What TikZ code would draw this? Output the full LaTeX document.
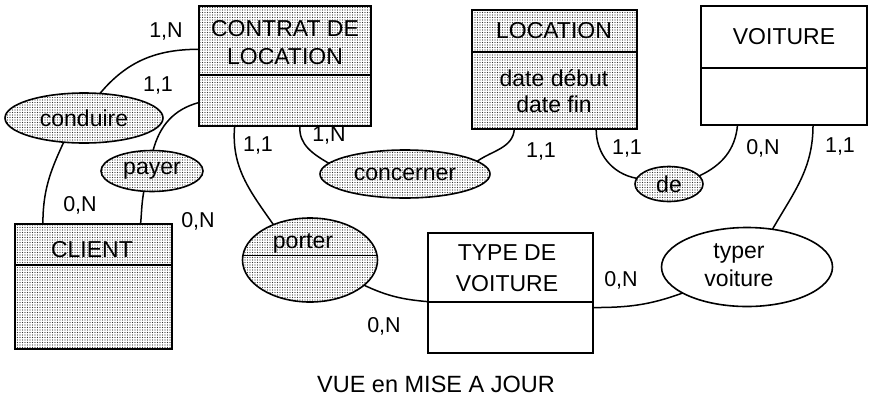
\documentclass[tikz,border=0pt]{standalone}
\usepackage{fontspec}
\setmainfont{Liberation Sans}
\usetikzlibrary{shapes.geometric,patterns.meta}
\tikzset{every picture/.style={line width=1.5pt}}
\tikzset{
  entite/.style={draw, rectangle, line width=1.7pt, inner sep=0pt, outer sep=0pt},
  relation/.style={draw, ellipse, line width=1.6pt, inner sep=0pt, outer sep=0pt},
  ombre/.style={pattern={Dots[distance=2.5pt,radius=0.55pt]}, pattern color=black!80},
  card/.style={inner sep=0pt, font=\fontsize{21.5}{25}\selectfont},
}

\begin{document}
\begin{tikzpicture}[x=1pt, y=-1pt, font=\fontsize{23}{28}\selectfont]
    \useasboundingbox (0,0) rectangle (871,400);
    % entites
    \node[entite, ombre, minimum width=172pt, minimum height=120pt] (contrat) at (285,66) {};
    \node[align=center] (contrat-t) at (285,43) {CONTRAT DE\\LOCATION};
    \draw[line width=1.7pt] (contrat.west |- 0,75) -- (contrat.east |- 0,75);
    \node[entite, ombre, minimum width=165pt, minimum height=119pt] (location) at (554.5,69.5) {};
    \node (location-t) at (554,31) {LOCATION};
    \draw[line width=1.7pt] (location.west |- 0,52) -- (location.east |- 0,52);
    \node[align=center, font=\fontsize{23}{26}\selectfont] (location-a) at (554,91) {date début\\date fin};
    \node[entite, minimum width=166pt, minimum height=119pt] (voiture) at (784,65.5) {};
    \node (voiture-t) at (784,37) {VOITURE};
    \draw[line width=1.7pt] (voiture.west |- 0,68) -- (voiture.east |- 0,68);
    \node[entite, ombre, minimum width=157pt, minimum height=125pt] (client) at (93.5,286.5) {};
    \node (client-t) at (92,250) {CLIENT};
    \draw[line width=1.7pt] (client.west |- 0,265) -- (client.east |- 0,265);
    \node[entite, minimum width=165pt, minimum height=120pt] (type) at (510.5,293) {};
    \node[align=center, font=\fontsize{23}{31}\selectfont] (type-t) at (507,268.5) {TYPE DE\\VOITURE};
    \draw[line width=1.7pt] (type.west |- 0,302) -- (type.east |- 0,302);
    % associations
    \node[relation, ombre, minimum width=158pt, minimum height=50pt] (conduire) at (84,118) {conduire};
    \node[relation, ombre, minimum width=102pt, minimum height=41pt] (payer) at (152,171) {payer};
    \node[relation, ombre, minimum width=170pt, minimum height=48pt] (concerner) at (405,174) {concerner};
    \node[relation, ombre, minimum width=68pt, minimum height=35pt] (de) at (669,184) {de};
    \node[relation, ombre, minimum width=135pt, minimum height=84pt] (porter) at (310,260) {};
    \node (porter-t) at (303,243) {porter};
    \draw[line width=1.6pt] (porter.176) -- (porter.4);
    \node[relation, minimum width=171pt, minimum height=79pt] (typer) at (747,267) {};
    \node[align=center] (typer-t) at (739,265) {typer\\voiture};
    % liens
    \draw (contrat.169) to[out=180, in=50] (conduire.57);
    \draw (contrat.203) to[out=195, in=75] (payer.87);
    \draw (conduire.230) to[out=245, in=90] (client.129);
    \draw (payer.248) to[out=260, in=85] (client.53);
    \draw (contrat.230) to[out=265, in=125] (porter.136);
    \draw (contrat.284) to[out=265, in=150] (concerner.172);
    \draw (concerner.10) to[out=35, in=265] (location.236);
    \draw (location.305) to[out=270, in=170] (de.170);
    \draw (de.15) to[out=25, in=265] (voiture.232);
    \draw (voiture.296) to[out=270, in=60] (typer.56);
    \draw (typer.202) to[out=200, in=0] (type.350);
    \draw (porter.335) to[out=335, in=175] (type.186);
    % cardinalites
    \node[card] (c1) at (166,31) {1,N};
    \node[card] (c2) at (158,85) {1,1};
    \node[card] (c3) at (258,145) {1,1};
    \node[card] (c4) at (329,135) {1,N};
    \node[card] (c5) at (80,205) {0,N};
    \node[card] (c6) at (198,221) {0,N};
    \node[card] (c7) at (541,151) {1,1};
    \node[card] (c8) at (627,148) {1,1};
    \node[card] (c9) at (763,148) {0,N};
    \node[card] (c10) at (840,146) {1,1};
    \node[card] (c11) at (621,280) {0,N};
    \node[card] (c12) at (384,326) {0,N};
    % titre
    \node[font=\fontsize{23.5}{28}\selectfont] (titre) at (436,384) {VUE en MISE A JOUR};
\end{tikzpicture}
\end{document}
